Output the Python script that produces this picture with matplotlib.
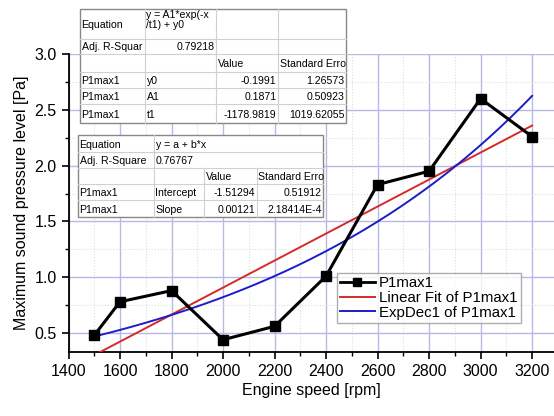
import matplotlib.pyplot as plt
from matplotlib.patches import Rectangle
from matplotlib.lines import Line2D
from matplotlib.ticker import MultipleLocator
import numpy as np

plt.rcParams['font.family'] = ['Liberation Sans', 'DejaVu Sans']

# measured data
speed = [1500, 1600, 1800, 2000, 2200, 2400, 2600, 2800, 3000, 3200]
p1max1 = [0.48, 0.78, 0.88, 0.44, 0.56, 1.01, 1.83, 1.95, 2.60, 2.26]

# fit parameters as printed in the tables
lin_a, lin_b = -1.51294, 0.00121
exp_y0, exp_A1, exp_t1 = -0.1991, 0.1871, -1178.9819

exp_table = [
    ['Equation', 'y = A1*exp(-x\n/t1) + y0', '', ''],
    ['Adj. R-Squar', '0.79218', '', ''],
    ['', '', 'Value', 'Standard Erro'],
    ['P1max1', 'y0', '-0.1991', '1.26573'],
    ['P1max1', 'A1', '0.1871', '0.50923'],
    ['P1max1', 't1', '-1178.9819', '1019.62055'],
]
lin_table = [
    ['Equation', 'y = a + b*x', '', ''],
    ['Adj. R-Square', '0.76767', '', ''],
    ['', '', 'Value', 'Standard Erro'],
    ['P1max1', 'Intercept', '-1.51294', '0.51912'],
    ['P1max1', 'Slope', '0.00121', '2.18414E-4'],
]

W, H = 554, 416
fig = plt.figure(figsize=(W / 100, H / 100), dpi=100)
ax = fig.add_axes([68.5 / W, 1 - 352 / H, 1 - 68.5 / W, (352 - 54) / H])

x_fit = np.linspace(speed[0], speed[-1], 200)
ax.plot(speed, p1max1, color='black', lw=2.2, marker='s', ms=7, zorder=5)
ax.plot(x_fit, lin_a + lin_b * x_fit, color='#d42a2a', lw=1.4, zorder=4)
ax.plot(x_fit, exp_y0 + exp_A1 * np.exp(-x_fit / exp_t1), color='#1c1cc8', lw=1.4, zorder=4)

ax.set_xlim(1400, 3285)
ax.set_ylim(0.33, 3.0)
ax.xaxis.set_major_locator(MultipleLocator(200))
ax.xaxis.set_minor_locator(MultipleLocator(100))
ax.yaxis.set_major_locator(MultipleLocator(0.5))
ax.yaxis.set_minor_locator(MultipleLocator(0.25))
ax.set_yticks([0.5, 1.0, 1.5, 2.0, 2.5, 3.0])
ax.grid(True, which='major', color='#b8b8e8', lw=1.0)
ax.grid(True, which='minor', color='#cfe6cf', lw=0.8, ls=':')
ax.set_axisbelow(True)
for s in ['top', 'right']:
    ax.spines[s].set_visible(False)
ax.spines['left'].set_linewidth(1.3)
ax.spines['bottom'].set_linewidth(1.3)
ax.tick_params(which='major', direction='out', length=5, width=1.2, labelsize=11.5)
ax.tick_params(which='minor', direction='out', length=3, width=1.0)
ax.set_xlabel('Engine speed [rpm]', fontsize=11.5, labelpad=3)
ax.set_ylabel('Maximum sound pressure level [Pa]', fontsize=11.5, labelpad=4)

handles = [
    Line2D([], [], color='black', lw=2, marker='s', ms=6),
    Line2D([], [], color='#d42a2a', lw=1.4),
    Line2D([], [], color='#1c1cc8', lw=1.4),
]
ax.legend(handles, ['P1max1', 'Linear Fit of P1max1', 'ExpDec1 of P1max1'],
          loc='upper left', bbox_to_anchor=((337 - 68.5) / (W - 68.5), 1 - (273 - 54) / 298),
          fontsize=10.8, frameon=True, fancybox=False, edgecolor='#999999',
          borderpad=0.2, labelspacing=0.05, handlelength=2.3, handletextpad=0.3,
          borderaxespad=0)


def px(x, y):
    return x / W, 1 - y / H


def draw_table(rows, cols, rowb, spans):
    x0, x1 = cols[0], cols[-1]
    y0, y1 = rowb[0], rowb[-1]
    fig.add_artist(Rectangle(px(x0, y1), (x1 - x0) / W, (y1 - y0) / H,
                             transform=fig.transFigure, facecolor='white',
                             edgecolor='#888888', lw=1.0, zorder=10))
    for yb in rowb[1:-1]:
        fig.add_artist(Line2D([x0 / W, x1 / W], [1 - yb / H] * 2, color='#d0d0d0',
                              lw=0.8, transform=fig.transFigure, zorder=11))
    for r, row in enumerate(rows):
        ya, yb = rowb[r], rowb[r + 1]
        for c in range(1, 4):
            if c >= spans.get(r, 4):
                continue
            xc = cols[c]
            fig.add_artist(Line2D([xc / W] * 2, [1 - ya / H, 1 - yb / H], color='#d0d0d0',
                                  lw=0.8, transform=fig.transFigure, zorder=11))
        for c, txt in enumerate(row):
            if not txt:
                continue
            right = (r >= 3 and c >= 2) or (r == 1 and c == 1 and 1 not in spans)
            if right:
                xt, ha = cols[c + 1] - 1.5, 'right'
            else:
                xt, ha = cols[c] + 1.5, 'left'
            yt = 1 - (ya + 1.5) / H if '\n' in txt else 1 - (ya + yb) / 2 / H
            va = 'top' if '\n' in txt else 'center_baseline'
            fig.text(xt / W, yt, txt, ha=ha, va=va, fontsize=7.6, zorder=12,
                     linespacing=1.0)


draw_table(exp_table, [80, 145, 216, 278, 346], [9, 39, 54, 72, 88, 104, 123], {})
draw_table(lin_table, [78, 154, 204, 257, 323], [135, 152, 168, 184, 200, 217], {0: 2, 1: 2})

fig.savefig('out.png', dpi=100)
